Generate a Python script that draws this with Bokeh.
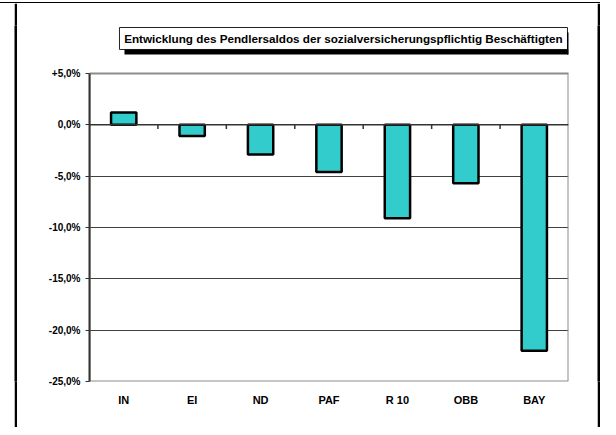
from bokeh.plotting import figure
from bokeh.models import Range1d, FixedTicker, Span, Label, Div
from bokeh.layouts import row, column
from bokeh.embed import file_html
from bokeh.resources import INLINE

categories = ["IN", "EI", "ND", "PAF", "R 10", "OBB", "BAY"]
saldo = [1.2, -1.1, -2.9, -4.6, -9.1, -5.7, -22.0]
tick_values = [5, 0, -5, -10, -15, -20, -25]
tick_labels = ["+5,0%", "0,0%", "-5,0%", "-10,0%", "-15,0%", "-20,0%", "-25,0%"]
title_text = "Entwicklung des Pendlersaldos der sozialversicherungspflichtig Beschäftigten"

FONT = "Liberation Sans"
y_lo, y_hi = min(tick_values), max(tick_values)
n = len(categories)

# frame extends above the +5 % line so the title box can be drawn inside it
p = figure(x_range=categories, y_range=Range1d(y_lo, 9.675), width=580, height=424,
           output_backend="svg", toolbar_location=None,
           min_border_left=72, min_border_right=29, min_border_top=22, min_border_bottom=46)

p.outline_line_color = None
p.background_fill_color = "white"
p.border_fill_color = "white"

# grid
p.xgrid.grid_line_color = None
p.ygrid.grid_line_color = "#404040"
p.ygrid.grid_line_width = 1

# y axis
p.yaxis.ticker = FixedTicker(ticks=tick_values)
p.yaxis.bounds = (y_lo, y_hi)
p.yaxis.major_label_overrides = {v: l for v, l in zip(tick_values, tick_labels)}
p.yaxis.axis_line_color = "#333333"
p.yaxis.axis_line_width = 2
p.yaxis.major_tick_line_color = "#333333"
p.yaxis.major_tick_out = 4
p.yaxis.major_tick_in = 0
p.yaxis.minor_tick_line_color = None
p.yaxis.major_label_standoff = 5
p.yaxis.major_label_text_font = FONT
p.yaxis.major_label_text_font_style = "bold"
p.yaxis.major_label_text_font_size = "10px"
p.yaxis.major_label_text_color = "black"

# x axis
p.xaxis.axis_line_color = None
p.xaxis.major_tick_line_color = None
p.xaxis.major_tick_out = 0
p.xaxis.major_label_standoff = 12
p.xaxis.major_label_text_font = FONT
p.xaxis.major_label_text_font_style = "bold"
p.xaxis.major_label_text_font_size = "11px"
p.xaxis.major_label_text_color = "black"

# plot-area border (grey)
p.quad(left=[0], right=[n], bottom=[y_lo], top=[y_hi],
       fill_color=None, line_color="#8c8c8c", line_width=2)

# zero line with category ticks
p.add_layout(Span(location=0, dimension="width", line_color="#333333", line_width=1.5))
bounds = list(range(1, n))
p.segment(x0=bounds, y0=[0] * len(bounds), x1=bounds, y1=[-0.4] * len(bounds),
          line_color="#333333", line_width=1.5)

# bars
p.vbar(x=categories, top=saldo, bottom=0, width=0.37,
       fill_color="#33CCCC", line_color="black", line_width=2.5)

# title box
p.quad(left=[0.438], right=[6.985], top=[9.48], bottom=[7.34],
       fill_color="white", line_color="#222222", line_width=1)
# title box shadow, drawn as thick strokes below and right of the box
p.segment(x0=[0.511], y0=[7.095], x1=[7.0], y1=[7.095], line_color="#000000", line_width=5)
p.segment(x0=[7.0], y0=[8.99], x1=[7.0], y1=[6.85], line_color="#000000", line_width=3)
p.add_layout(Label(x=3.71, y=8.41, text=title_text, text_align="center", text_baseline="middle",
                   text_font=FONT, text_font_style="bold", text_font_size="11.7px",
                   text_color="black"))


def sheet_line(w, h, left_margin):
    f = figure(width=w, height=h, output_backend="svg", toolbar_location=None,
               min_border=0, min_border_left=0, min_border_right=0,
               min_border_top=0, min_border_bottom=0,
               margin=(0, 0, 0, left_margin))
    f.background_fill_color = "black"
    f.border_fill_color = "black"
    f.outline_line_color = None
    f.axis.visible = False
    f.grid.visible = False
    return f


# surrounding sheet lines
top_line = Div(text="", width=600, height=1, margin=(2, 0, 0, 0),
               styles={"background-color": "black"})
left_line = sheet_line(3, 424, 14)
right_line = sheet_line(3, 424, 0)

layout = column(top_line, row(left_line, p, right_line, spacing=0), spacing=0)

open("out.html", "w").write(file_html(layout, INLINE))
